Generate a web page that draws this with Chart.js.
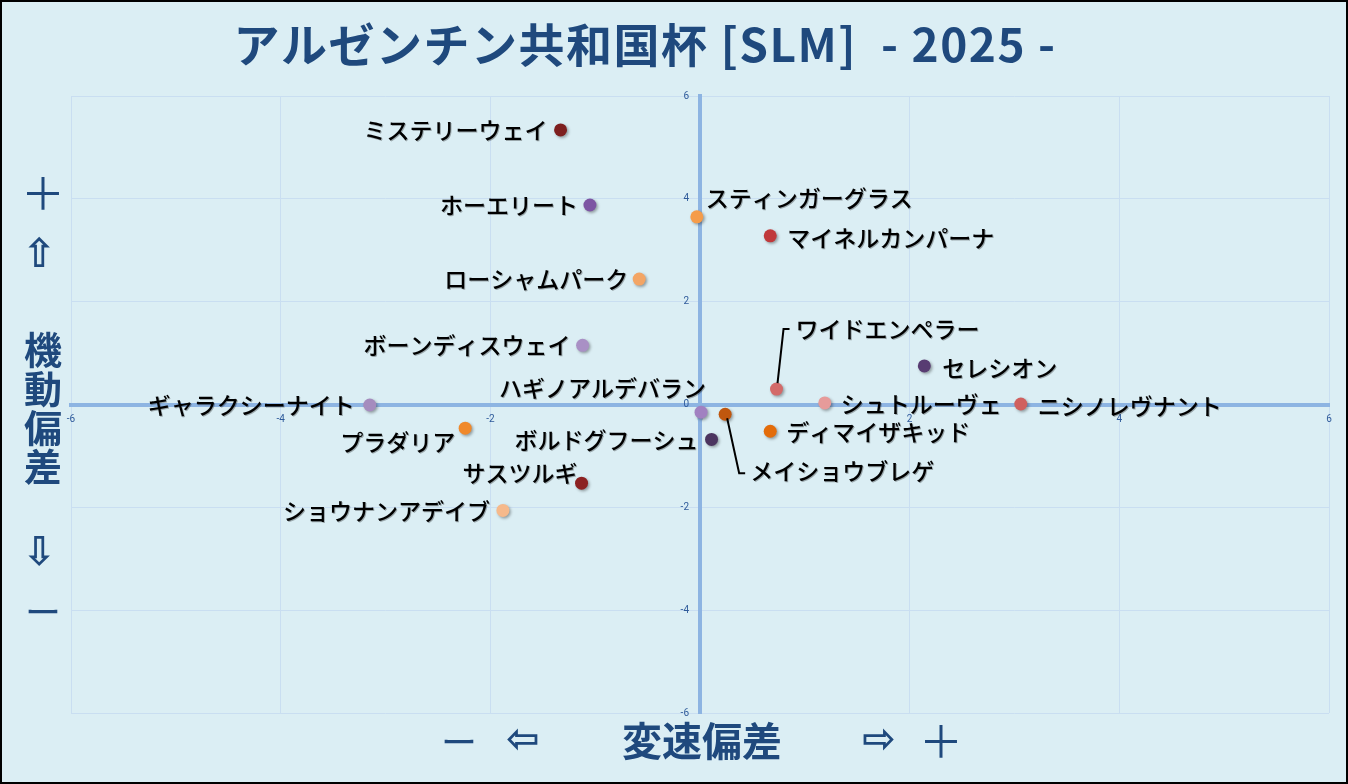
<!DOCTYPE html>
<html lang="ja">
<head>
<meta charset="utf-8">
<title>アルゼンチン共和国杯 [SLM] - 2025 -</title>
<script src="https://cdn.jsdelivr.net/npm/chart.js@4.4.1/dist/chart.umd.min.js"></script>
<style>
    html, body { margin: 0; padding: 0; background: #dbeef4; }
    #wrap { width: 1348px; height: 784px; position: relative; }
    canvas { display: block; }
</style>
</head>
<body>
<div id="wrap"><canvas id="slmChart" width="1348" height="784"></canvas></div>
<script>
// データ（変速偏差 = x, 機動偏差 = y）
const horseNames = [
    'ミステリーウェイ', 'ホーエリート', 'スティンガーグラス', 'マイネルカンパーナ',
    'ローシャムパーク', 'ボーンディスウェイ', 'ワイドエンペラー', 'セレシオン',
    'シュトルーヴェ', 'ニシノレヴナント', 'ギャラクシーナイト', 'ハギノアルデバラン',
    'メイショウブレゲ', 'ボルドグフーシュ', 'ディマイザキッド', 'プラダリア',
    'サスツルギ', 'ショウナンアデイブ'
];
const speedDev = [
    -1.33, -1.05, -0.03, 0.67,
    -0.58, -1.12, 0.73, 2.14,
    1.19, 3.06, -3.15, 0.01,
    0.24, 0.11, 0.67, -2.24,
    -1.13, -1.88
];
const mobilityDev = [
    5.34, 3.88, 3.65, 3.28,
    2.44, 1.15, 0.30, 0.75,
    0.03, 0.01, -0.01, -0.15,
    -0.19, -0.68, -0.52, -0.46,
    -1.53, -2.06
];
const axisTicks = [-6, -4, -2, 0, 2, 4, 6];

// 点の色
const pointColors = [
    '#7d1f1f', '#7d55a3', '#f59c4a', '#c0393b',
    '#f3a565', '#a990c5', '#d36a69', '#583c72',
    '#e69b9a', '#d0605f', '#a58cbe', '#a181c1',
    '#c0570e', '#4b345f', '#e36c0a', '#f0892b',
    '#8c2222', '#f6b98b'
];

// ラベル配置 [揃え, dx, dy, 引出線]
const labelPlace = [
    ['right', -13, 0], ['right', -12, 0], ['left', 9, -19], ['left', 17, 2],
    ['right', -11, 0], ['right', -12, 0], ['left', 19, -60, [[1, -6], [7, -60], [13, -60]]], ['left', 18, 2],
    ['left', 16, 1], ['left', 17, 2], ['right', -15, 0], ['right', 5, -24],
    ['left', 25, 57, [[2, 4], [14, 59], [20, 59]]], ['right', -13, 1], ['left', 16, 1], ['right', -10, 14],
    ['right', -4, -10], ['right', -13, 1]
];

const DARK_BLUE = '#1f497d';
const TICK_BLUE = '#2e5a9a';
const FONT_JP = '"Noto Sans CJK JP", "Noto Sans", sans-serif';
const FONT_ARROW = '"DejaVu Sans", sans-serif';

// 背景と枠
const backgroundPlugin = {
    id: 'bg',
    beforeDraw(chart) {
        const ctx = chart.ctx;
        ctx.save();
        ctx.fillStyle = '#dbeef4';
        ctx.fillRect(0, 0, chart.width, chart.height);
        ctx.restore();
    },
    afterDraw(chart) {
        const ctx = chart.ctx;
        ctx.save();
        ctx.strokeStyle = '#000';
        ctx.lineWidth = 2;
        ctx.strokeRect(1, 1, chart.width - 2, chart.height - 2);
        ctx.restore();
    }
};

// 縦軸の目盛ラベル（中央軸の左側に少し離して描く）
const yTickPlugin = {
    id: 'yTicks',
    afterDraw(chart) {
        const ctx = chart.ctx;
        const xs = chart.scales.x, ys = chart.scales.y;
        const x0 = xs.getPixelForValue(0);
        ctx.save();
        ctx.fillStyle = TICK_BLUE;
        ctx.font = '10px Roboto, sans-serif';
        ctx.textAlign = 'right';
        ctx.textBaseline = 'middle';
        ys.ticks.forEach(t => {
            ctx.fillText(String(t.value), x0 - 11, ys.getPixelForValue(t.value));
        });
        ctx.restore();
    }
};

// 点の影
const shadowPlugin = {
    id: 'pointShadow',
    beforeDatasetsDraw(chart) {
        const ctx = chart.ctx;
        ctx.save();
        ctx.shadowColor = 'rgba(0,0,0,0.35)';
        ctx.shadowBlur = 3;
        ctx.shadowOffsetX = 1.5;
        ctx.shadowOffsetY = 1.5;
    },
    afterDatasetsDraw(chart) {
        chart.ctx.restore();
    }
};

// 馬名ラベル
const labelPlugin = {
    id: 'horseLabels',
    afterDatasetsDraw(chart) {
        const ctx = chart.ctx;
        const meta = chart.getDatasetMeta(0);
        ctx.save();
        ctx.font = '500 23px ' + FONT_JP;
        ctx.textBaseline = 'middle';
        meta.data.forEach((pt, i) => {
            const p = labelPlace[i];
            const x = pt.x, y = pt.y;
            if (p[3]) {
                ctx.strokeStyle = '#000';
                ctx.lineWidth = 2;
                ctx.beginPath();
                p[3].forEach((q, k) => {
                    if (k === 0) ctx.moveTo(x + q[0], y + q[1]);
                    else ctx.lineTo(x + q[0], y + q[1]);
                });
                ctx.stroke();
            }
            ctx.textAlign = p[0];
            ctx.fillStyle = 'rgba(0,0,0,0.3)';
            ctx.fillText(horseNames[i], x + p[1] + 1, y + p[2] + 1);
            ctx.fillStyle = '#000';
            ctx.fillText(horseNames[i], x + p[1], y + p[2]);
        });
        ctx.restore();
    }
};

// タイトルと軸の説明
const titlePlugin = {
    id: 'titles',
    afterDraw(chart) {
        const ctx = chart.ctx;
        ctx.save();
        ctx.fillStyle = DARK_BLUE;
        ctx.textBaseline = 'middle';
        ctx.textAlign = 'center';

        ctx.font = 'bold 46px ' + FONT_JP;
        ctx.letterSpacing = '1.5px';
        ctx.fillText('アルゼンチン共和国杯 [SLM]  - 2025 -', 645, 45);
        ctx.letterSpacing = '0px';

        // 縦軸
        ctx.font = '44px ' + FONT_JP;
        ctx.fillText('＋', 43, 193);
        ctx.font = 'bold 40px ' + FONT_ARROW;
        ctx.fillText('⇧', 39, 257);
        ctx.font = 'bold 38px ' + FONT_JP;
        ['機', '動', '偏', '差'].forEach((c, i) => ctx.fillText(c, 43, 350 + i * 39));
        ctx.font = 'bold 40px ' + FONT_ARROW;
        ctx.fillText('⇩', 39, 555);
        ctx.font = '36px ' + FONT_JP;
        ctx.fillText('ー', 43, 612);

        // 横軸
        ctx.font = '36px ' + FONT_JP;
        ctx.fillText('ー', 459, 742);
        ctx.font = 'bold 40px ' + FONT_ARROW;
        ctx.fillText('⇦', 523, 742);
        ctx.font = 'bold 40px ' + FONT_JP;
        ctx.fillText('変速偏差', 702, 741);
        ctx.font = 'bold 40px ' + FONT_ARROW;
        ctx.fillText('⇨', 879, 742);
        ctx.font = '44px ' + FONT_JP;
        ctx.fillText('＋', 941, 741);
        ctx.restore();
    }
};

const scaleBase = {
    type: 'linear',
    min: -6,
    max: 6,
    afterBuildTicks(scale) {
        scale.ticks = axisTicks.map(v => ({ value: v }));
    },
    grid: { color: '#c9def1', lineWidth: 1, drawTicks: false },
    border: { color: '#8db4e2', width: 4 },
    ticks: {
        color: TICK_BLUE,
        font: { size: 10, family: 'Roboto, sans-serif' },
        padding: 9,
        autoSkip: false,
        maxRotation: 0
    }
};

new Chart(document.getElementById('slmChart'), {
    type: 'scatter',
    data: {
        datasets: [{
            label: 'SLM',
            data: speedDev.map((v, i) => ({ x: v, y: mobilityDev[i] })),
            pointBackgroundColor: pointColors,
            pointBorderColor: pointColors,
            pointBorderWidth: 0,
            pointRadius: 6.5,
            pointHoverRadius: 6.5
        }]
    },
    options: {
        responsive: false,
        animation: false,
        events: [],
        layout: { padding: { left: 71, right: 19, top: 96, bottom: 71 } },
        plugins: {
            legend: { display: false },
            tooltip: { enabled: false }
        },
        scales: {
            x: Object.assign({}, scaleBase, { position: { y: 0 } }),
            y: Object.assign({}, scaleBase, {
                position: { x: 0 },
                ticks: Object.assign({}, scaleBase.ticks, { display: false })
            })
        }
    },
    plugins: [backgroundPlugin, shadowPlugin, labelPlugin, yTickPlugin, titlePlugin]
});
</script>
</body>
</html>
